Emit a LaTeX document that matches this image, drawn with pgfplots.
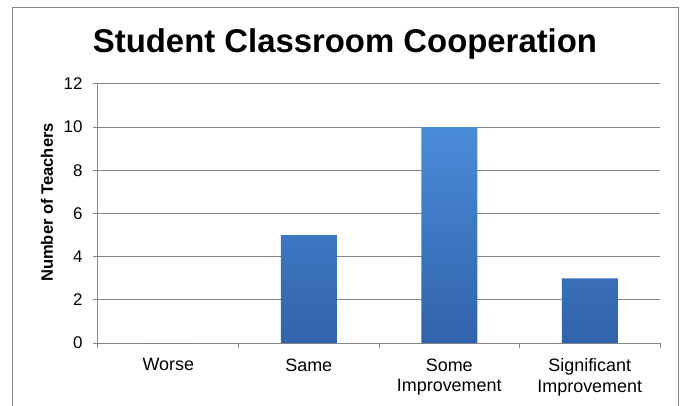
\documentclass[border=0pt]{standalone}
\usepackage{pgfplots}
\pgfplotsset{compat=1.18}
\usepackage{fontspec}
\setmainfont{Liberation Sans}
\definecolor{barTop}{HTML}{4A8BD8}
\definecolor{barBot}{HTML}{3063AB}
\definecolor{axgray}{HTML}{868686}
\begin{document}
\begin{tikzpicture}[x=1bp,y=1bp]
\useasboundingbox (-98,-62) rectangle (587,343);
\draw[axgray, line width=1bp] (-85,-70) -- (-85,336) -- (580,336) -- (580,-70);
\begin{axis}[
  at={(0,0)}, anchor=south west,
  scale only axis, width=562bp, height=259bp,
  xmin=-0.5, xmax=3.5, ymin=0, ymax=12,
  ytick={0,2,...,12},
  xtick={0,1,2,3},
  xticklabels={Worse,Same,{Some\\Improvement},{Significant\\Improvement}},
  minor xtick={-0.5,0.5,1.5,2.5,3.5},
  major x tick style={draw=none},
  axis x line*=bottom, axis y line*=left,
  axis line style={axgray, line width=1bp, -},
  tick align=outside,
  major tick length=5bp, minor tick length=5bp,
  every tick/.style={axgray, line width=1bp},
  ymajorgrids, major grid style={axgray, line width=1bp},
  /pgf/number format/assume math mode=true,
  yticklabel style={font=\fontsize{17}{19}\selectfont, text=black, xshift=-7bp},
  xticklabel style={font=\fontsize{18}{21}\selectfont, align=center, text=black, yshift=-7bp},
  clip=false,
]
\addplot[ybar, bar width=56bp, draw=none, top color=barTop, bottom color=barBot]
  coordinates {(0,0) (1,5) (2,10) (3,3)};
\end{axis}
\node[anchor=base, font=\bfseries\fontsize{33}{36}\selectfont] at (247,291) {Student Classroom Cooperation};
\node[rotate=90, anchor=base, font=\bfseries\fontsize{16.6}{18}\selectfont] at (-45,140.5) {Number of Teachers};
\end{tikzpicture}
\end{document}
